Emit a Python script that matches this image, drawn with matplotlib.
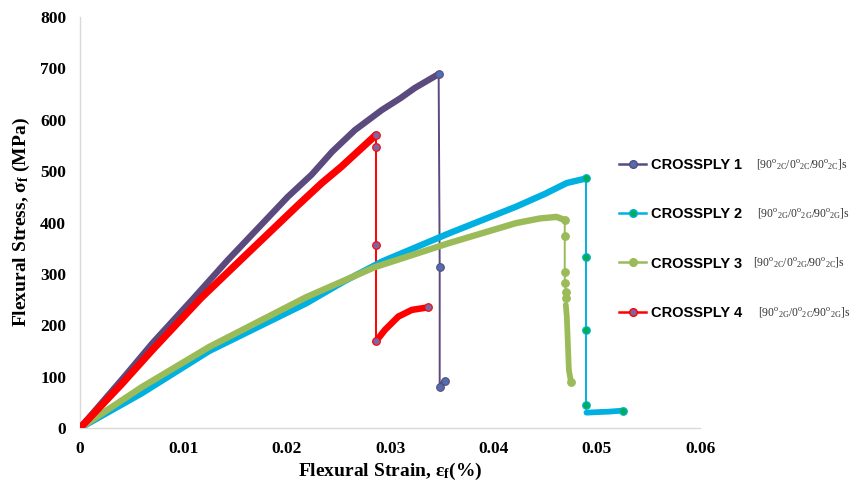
import matplotlib
matplotlib.use("Agg")
import matplotlib.pyplot as plt
from matplotlib.lines import Line2D

plt.rcParams["mathtext.fontset"] = "custom"
plt.rcParams["mathtext.rm"] = "Liberation Serif"
plt.rcParams["mathtext.bf"] = "Liberation Serif:bold"
plt.rcParams["mathtext.it"] = "Liberation Serif:italic"

# --- values (strain, stress MPa) ---
cp1_rise_x = [0, 0.0045, 0.0070, 0.0110, 0.0143, 0.0201, 0.0224, 0.0244, 0.0266,
              0.0292, 0.0310, 0.0324, 0.0347]
cp1_rise_y = [0, 105, 165, 253, 327, 450, 493, 538, 580, 619, 642, 662, 689]
cp1_drop_x = [0.0347, 0.0348, 0.0348]
cp1_drop_y = [689, 313, 79]
cp1_tail_x = [0.0348, 0.0350, 0.0353]
cp1_tail_y = [79, 85, 92]

cp2_rise_x = [0, 0.0060, 0.0125, 0.0219, 0.0255, 0.0292, 0.0357, 0.0422, 0.0450,
              0.0471, 0.0490]
cp2_rise_y = [0, 68, 150, 243, 285, 324, 379, 431, 456, 477, 486]
cp2_drop_x = [0.0490, 0.0490, 0.0490, 0.0490]
cp2_drop_y = [486, 333, 191, 45]
cp2_tail_x = [0.0490, 0.0500, 0.0512, 0.0525]
cp2_tail_y = [30, 31, 32, 34]

cp3_rise_x = [0, 0.0060, 0.0125, 0.0219, 0.0285, 0.0357, 0.0422, 0.0445, 0.0461, 0.0469]
cp3_rise_y = [0, 80, 158, 255, 313, 360, 399, 408, 411, 405]
cp3_drop_x = [0.0469, 0.0469, 0.0469, 0.0469, 0.0470, 0.0470]
cp3_drop_y = [405, 374, 304, 282, 265, 253]
cp3_tail_x = [0.0470, 0.0471, 0.0473, 0.0475]
cp3_tail_y = [240, 217, 113, 90]

cp4_rise_x = [0, 0.0040, 0.0070, 0.0117, 0.0159, 0.0211, 0.0234, 0.0253, 0.0286]
cp4_rise_y = [0, 85, 152, 253, 334, 434, 477, 509, 570]
cp4_drop_x = [0.0286, 0.0286, 0.0286, 0.0286]
cp4_drop_y = [570, 547, 356, 170]
cp4_tail_x = [0.0286, 0.0295, 0.0308, 0.0321, 0.0337]
cp4_tail_y = [168, 191, 217, 230, 235]

labels = ["CROSSPLY 1", "CROSSPLY 2", "CROSSPLY 3", "CROSSPLY 4"]
layups = [
    r"$\mathregular{[90^{o}{}_{2C}/0^{o}{}_{2C}/90^{o}{}_{2C}]s}$",
    r"$\mathregular{[90^{o}{}_{2G}/0^{o}{}_{2G}/90^{o}{}_{2G}]s}$",
    r"$\mathregular{[90^{o}{}_{2C}/0^{o}{}_{2G}/90^{o}{}_{2C}]s}$",
    r"$\mathregular{[90^{o}{}_{2G}/0^{o}{}_{2C}/90^{o}{}_{2G}]s}$",
]

styles = [
    dict(line="#5B4A7E", face="#4F6FAE", edge="#5B4A7E"),
    dict(line="#00B0E0", face="#00B050", edge="#00B0E0"),
    dict(line="#9BBB59", face="#9BBB59", edge="#9BBB59"),
    dict(line="#FF0000", face="#8064A2", edge="#FF0000"),
]

series = [
    (cp1_rise_x, cp1_rise_y, cp1_drop_x, cp1_drop_y, cp1_tail_x, cp1_tail_y),
    (cp2_rise_x, cp2_rise_y, cp2_drop_x, cp2_drop_y, cp2_tail_x, cp2_tail_y),
    (cp3_rise_x, cp3_rise_y, cp3_drop_x, cp3_drop_y, cp3_tail_x, cp3_tail_y),
    (cp4_rise_x, cp4_rise_y, cp4_drop_x, cp4_drop_y, cp4_tail_x, cp4_tail_y),
]
thick = [4.6, 4.6, 4.6, 5.2]

fig = plt.figure(figsize=(8.53, 4.87), dpi=100)
ax = fig.add_axes([0.0938, 0.121, 0.727, 0.844])

# dense parts drawn as thick bands, sparse drop points with markers
for (rx, ry, dx, dy, tx, ty), st, lw in zip(series, styles, thick):
    ax.plot(rx, ry, "-", color=st["line"], lw=lw, solid_capstyle="round",
            solid_joinstyle="round", zorder=3)
    ax.plot(dx, dy, "-", color=st["line"], lw=1.4, zorder=2)
    ax.plot(tx, ty, "-", color=st["line"], lw=lw * 0.9, solid_capstyle="round", zorder=3)
    ax.plot(dx + [tx[-1]], dy + [ty[-1]], "o", ls="none", ms=5.5,
            mfc=st["face"], mec=st["edge"], mew=0.8, zorder=4)

ax.set_xlim(0, 0.06)
ax.set_ylim(0, 800)
ax.set_xticks([0, 0.01, 0.02, 0.03, 0.04, 0.05, 0.06])
ax.set_xticklabels(["0", "0.01", "0.02", "0.03", "0.04", "0.05", "0.06"])
ax.set_yticks(range(0, 801, 100))
for s in ("top", "right"):
    ax.spines[s].set_visible(False)
for s in ("left", "bottom"):
    ax.spines[s].set_color("#D9D9D9")
    ax.spines[s].set_linewidth(1.0)
ax.tick_params(axis="y", length=0, pad=10)
ax.tick_params(axis="x", length=0, pad=9)
for t in ax.get_xticklabels() + ax.get_yticklabels():
    t.set_fontfamily("Liberation Serif")
    t.set_fontweight("bold")
    t.set_fontsize(12.5)
ax.set_xlabel(r"Flexural Strain, ε$_\mathbf{f}$(%)", fontfamily="Liberation Serif",
              fontweight="bold", fontsize=14, labelpad=3)
ax.set_ylabel(r"Flexural Stress, σ$_\mathbf{f}$ (MPa)", fontfamily="Liberation Serif",
              fontweight="bold", fontsize=14, labelpad=6)

handles = [Line2D([], [], color=st["line"], lw=1.8, marker="o", ms=5.5,
                  mfc=st["face"], mec=st["edge"]) for st in styles]
leg = ax.legend(handles, labels, loc="upper left", bbox_to_anchor=(0.710, 0.702),
                bbox_transform=fig.transFigure, frameon=False, handlelength=1.9,
                handletextpad=0.3, labelspacing=2.41,
                prop=dict(family="Liberation Sans", weight="bold", size=10.5))

# layup notes next to each legend entry (pixel positions from the top)
note_x = [756, 757, 753, 758]
note_y = [165, 214, 263, 313]
for txt, nx, ny in zip(layups, note_x, note_y):
    fig.text(nx / 853, 1 - ny / 487, txt, fontfamily="Liberation Serif",
             fontsize=8.4, va="center", ha="left", color="#333333")

fig.savefig("out.png", dpi=100)
